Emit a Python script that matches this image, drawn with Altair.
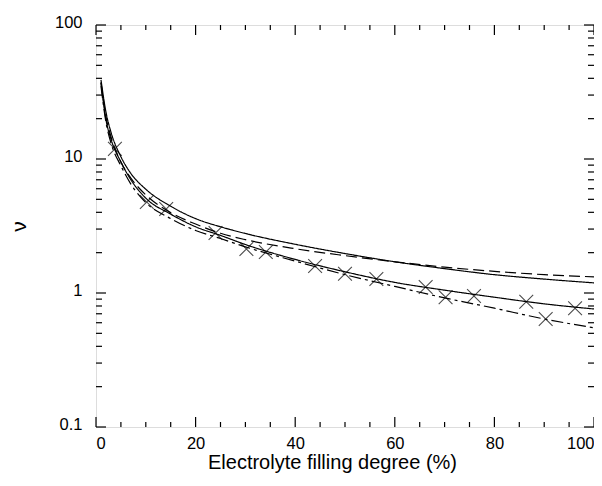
import altair as alt
import pandas as pd

# ---- data ----
x_grid = [1, 2, 3, 5, 7, 10, 15, 20, 25, 30, 40, 50, 60, 70, 80, 90, 100]
solid_upper = [39, 22.4, 15.9, 10.4, 7.8, 5.95, 4.44, 3.59, 3.12, 2.78, 2.31, 1.97, 1.71, 1.52, 1.37, 1.27, 1.19]
dashed_upper = [37.2, 20.6, 14.7, 9.5, 7.2, 5.4, 3.98, 3.27, 2.79, 2.5, 2.14, 1.9, 1.71, 1.56, 1.45, 1.37, 1.32]
solid_lower = [37.2, 19.7, 14.1, 9.5, 7.0, 5.1, 3.88, 3.12, 2.69, 2.3, 1.78, 1.44, 1.2, 1.05, 0.93, 0.83, 0.76]
dashdot_lower = [35.0, 18.8, 13.2, 8.9, 6.5, 4.73, 3.59, 2.93, 2.55, 2.21, 1.73, 1.37, 1.12, 0.92, 0.77, 0.64, 0.55]

marker_x = [3.8, 10.2, 14.1, 24.0, 30.2, 34.1, 44.0, 50.0, 56.3, 66.2, 70.2, 75.9, 86.4, 90.3, 96.2]
marker_y = [11.9, 4.78, 4.24, 2.80, 2.13, 2.02, 1.59, 1.39, 1.27, 1.11, 0.93, 0.95, 0.86, 0.64, 0.77]

x_major = [0, 20, 40, 60, 80, 100]
x_minor = [5, 10, 15, 25, 30, 35, 45, 50, 55, 65, 70, 75, 85, 90, 95]
y_major = [0.1, 1, 10, 100]
y_minor = [m * d for d in [0.1, 1, 10] for m in [2, 3, 4, 5, 6, 7, 8, 9]]

series_names = ["s1", "d1", "s2", "d2"]
series_vals = [solid_upper, dashed_upper, solid_lower, dashdot_lower]
dashes = [[1, 0], [11, 5], [1, 0], [12, 4, 3, 4]]

W, H = 498, 402
FONT = "Liberation Sans"

rows = []
for name, vals in zip(series_names, series_vals):
    for xv, yv in zip(x_grid, vals):
        rows.append({"series": name, "x": xv, "y": yv})
lines_df = pd.DataFrame(rows)
markers_df = pd.DataFrame({"x": marker_x, "y": marker_y})

xscale = alt.Scale(domain=[0, 100], nice=False, zero=False)
yscale = alt.Scale(type="log", domain=[0.1, 100], nice=False)

xaxis = alt.Axis(values=x_major, ticks=False, domain=False, grid=False,
                 labelFontSize=16.5, labelFont=FONT, labelColor="black", labelPadding=8,
                 title="Electrolyte filling degree (%)", titleFontSize=20,
                 titleFont=FONT, titleFontWeight="normal", titleColor="black",
                 titleBaseline="alphabetic", titleX=236, titleY=41)
yaxis = alt.Axis(values=y_major, ticks=False, domain=False, grid=False,
                 labelExpr="datum.value >= 1 ? format(datum.value, 'd') : '0.1'",
                 labelFontSize=16.5, labelFont=FONT, labelColor="black", labelPadding=14,
                 labelOffset=-3,
                 title="ν", titleFontSize=21, titleFont=FONT, titleFontWeight="normal",
                 titleColor="black", titlePadding=25)

lines = alt.Chart(lines_df).mark_line(color="black", strokeWidth=1.2, interpolate="monotone").encode(
    x=alt.X("x:Q", scale=xscale, axis=xaxis),
    y=alt.Y("y:Q", scale=yscale, axis=yaxis),
    strokeDash=alt.StrokeDash("series:N", scale=alt.Scale(domain=series_names, range=dashes), legend=None),
    detail="series:N",
)

markers = alt.Chart(markers_df).mark_point(
    shape="M-1,-1L1,1M-1,1L1,-1", filled=False, color="black", strokeWidth=1.1, size=190
).encode(x=alt.X("x:Q", scale=xscale), y=alt.Y("y:Q", scale=yscale))

# tick marks drawn inward on all four sides
def xticks(vals, length):
    df = pd.DataFrame({"x": vals})
    b = alt.Chart(df).mark_rule(color="black", strokeWidth=1.2).encode(
        x=alt.X("x:Q", scale=xscale), y=alt.value(H), y2=alt.value(H - length))
    t = alt.Chart(df).mark_rule(color="black", strokeWidth=1.2).encode(
        x=alt.X("x:Q", scale=xscale), y=alt.value(0), y2=alt.value(length))
    return [b, t]

def yticks(vals, length):
    df = pd.DataFrame({"y": vals})
    l = alt.Chart(df).mark_rule(color="black", strokeWidth=1.2).encode(
        y=alt.Y("y:Q", scale=yscale), x=alt.value(0), x2=alt.value(length))
    r = alt.Chart(df).mark_rule(color="black", strokeWidth=1.2).encode(
        y=alt.Y("y:Q", scale=yscale), x=alt.value(W), x2=alt.value(W - length))
    return [l, r]

layers = [lines, markers] + xticks(x_major, 10) + xticks(x_minor, 5) + yticks(y_major, 10) + yticks(y_minor, 6)

chart = alt.layer(*layers).properties(
    width=W, height=H,
    autosize=alt.AutoSizeParams(type="none"),
    padding={"left": 88, "top": 17, "right": 0, "bottom": 46},
).configure_view(stroke="black", strokeWidth=1.6).configure(background="white")

chart.save("out.html", embed_options={"renderer": "svg", "actions": False})
